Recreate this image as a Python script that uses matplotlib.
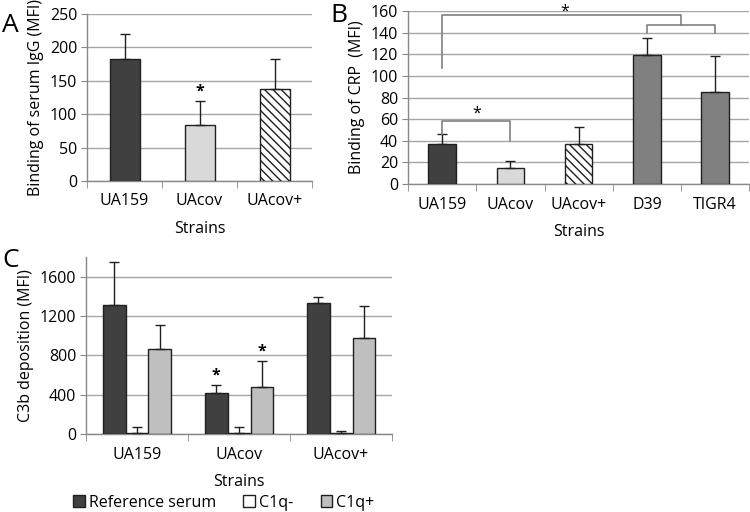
import matplotlib
matplotlib.use('Agg')
import matplotlib.pyplot as plt
import numpy as np

plt.rcParams['font.family'] = ['Open Sans', 'DejaVu Sans']
plt.rcParams['hatch.linewidth'] = 1.0

# ---------------------------------------------------------------------------
# Data
# ---------------------------------------------------------------------------
a_strains = ['UA159', 'UAcov', 'UAcov+']
a_igg = [183, 84, 138]
a_igg_err = [37, 35, 44]

b_strains = ['UA159', 'UAcov', 'UAcov+', 'D39', 'TIGR4']
b_crp = [37, 15, 37, 119, 85]
b_crp_err = [9, 6, 16, 16, 33]

c_strains = ['UA159', 'UAcov', 'UAcov+']
c_series = ['Reference serum', 'C1q-', 'C1q+']
c_ref = [1310, 420, 1335]
c_ref_err = [440, 80, 55]
c_c1qm = [10, 10, 15]
c_c1qm_err = [60, 60, 20]
c_c1qp = [860, 480, 975]
c_c1qp_err = [250, 265, 330]

# ---------------------------------------------------------------------------
# Style
# ---------------------------------------------------------------------------
DARK = '#404040'
LIGHT = '#d9d9d9'
MID = '#808080'
C1QP = '#bfbfbf'
GRID = '#a6a6a6'
AXIS = '#888888'
TICK_FS = 11.5
LAB_FS = 11.5
STAR_FS = 11.5


def style_axes(ax, ymax, ystep, ncat):
    ax.set_xlim(-0.5, ncat - 0.5)
    ax.set_ylim(0, ymax)
    ax.set_yticks(np.arange(0, ymax + 0.1, ystep))
    ax.yaxis.grid(True, color=GRID, linewidth=1.0)
    ax.set_axisbelow(True)
    for s in ('top', 'right'):
        ax.spines[s].set_visible(False)
    for s in ('left', 'bottom'):
        ax.spines[s].set_color(AXIS)
        ax.spines[s].set_linewidth(1.0)
    ax.tick_params(axis='y', length=4, color=AXIS, labelsize=TICK_FS, pad=3)
    ax.set_xticks(np.arange(ncat))
    ax.tick_params(axis='x', length=0, labelsize=TICK_FS, pad=9)
    ax.set_xticks(np.arange(ncat + 1) - 0.5, minor=True)
    ax.tick_params(axis='x', which='minor', length=5, color=AXIS)
    ax.set_xlabel('Strains', fontsize=LAB_FS, labelpad=8)


fig = plt.figure(figsize=(7.5, 5.12), dpi=100)
err_kw = dict(ecolor='#202020', elinewidth=1.0, capsize=3.5, capthick=1.0)

# ===================================================================
# Panel A
# ===================================================================
axA = fig.add_axes([0.116, 0.6465, 0.300, 0.3262])
xa = np.arange(len(a_strains))
colA = [DARK, LIGHT, 'white']
barsA = axA.bar(xa, a_igg, width=0.4, color=colA, edgecolor='#202020',
                linewidth=1.0, zorder=3)
barsA[2].set_hatch('\\\\\\\\')
axA.errorbar(xa, a_igg, yerr=[np.zeros(3), a_igg_err], fmt='none', zorder=4, **err_kw)
style_axes(axA, 250, 50, 3)
axA.set_xticklabels(a_strains)
axA.set_ylabel('Binding of serum IgG (MFI)', fontsize=LAB_FS, labelpad=4)
axA.text(xa[1], a_igg[1] + a_igg_err[1] + 3, '*', ha='center', va='bottom',
         fontsize=STAR_FS, fontweight='bold')

# ===================================================================
# Panel B
# ===================================================================
axB = fig.add_axes([0.544, 0.6406, 0.455, 0.3379])
xb = np.arange(len(b_strains))
colB = [DARK, LIGHT, 'white', MID, MID]
barsB = axB.bar(xb, b_crp, width=0.4, color=colB, edgecolor='#202020',
                linewidth=1.0, zorder=3)
barsB[2].set_hatch('\\\\\\\\')
axB.errorbar(xb, b_crp, yerr=[np.zeros(5), b_crp_err], fmt='none', zorder=4, **err_kw)
style_axes(axB, 160, 20, 5)
axB.set_xticklabels(b_strains)
axB.set_ylabel('Binding of CRP  (MFI)', fontsize=LAB_FS, labelpad=4)

BR = dict(color=MID, linewidth=1.2, clip_on=False, zorder=5)
# UA159 vs UAcov bracket
y_top = 58
axB.plot([xb[0], xb[0], xb[1], xb[1]], [b_crp[0] + b_crp_err[0], y_top, y_top, 40], **BR)
axB.text((xb[0] + xb[1]) / 2, y_top, '*', ha='center', va='bottom', fontsize=STAR_FS)
# D39 / TIGR4 bracket
y_pn = 147
axB.plot([xb[3], xb[3], xb[4], xb[4]], [140, y_pn, y_pn, 140], **BR)
# UA159 vs pneumococci bracket
mid_pn = (xb[3] + xb[4]) / 2
y_big = 156
axB.plot([xb[0], xb[0], mid_pn, mid_pn], [107, y_big, y_big, y_pn], **BR)
axB.text((xb[0] + mid_pn) / 2 + 0.05, y_big - 4, '*', ha='center', va='bottom', fontsize=STAR_FS)

# ===================================================================
# Panel C
# ===================================================================
axC = fig.add_axes([0.1147, 0.1523, 0.408, 0.346])
xc = np.arange(len(c_strains))
w = 0.225
series = [(c_ref, c_ref_err, DARK), (c_c1qm, c_c1qm_err, 'white'), (c_c1qp, c_c1qp_err, C1QP)]
handles = []
for i, (vals, errs, col) in enumerate(series):
    xs = xc + (i - 1) * w
    h = axC.bar(xs, vals, width=w, color=col, edgecolor='#202020', linewidth=1.0, zorder=3)
    axC.errorbar(xs, vals, yerr=[np.zeros(3), errs], fmt='none', zorder=4, **err_kw)
    handles.append(h)
style_axes(axC, 1800, 400, 3)
axC.set_yticks([0, 400, 800, 1200, 1600])
axC.set_xticklabels(c_strains)
axC.set_ylabel('C3b deposition (MFI)', fontsize=LAB_FS, labelpad=4)
for i in (0, 2):
    xs = xc[1] + (i - 1) * w
    vals, errs = series[i][0], series[i][1]
    axC.text(xs, vals[1] + errs[1] + 15, '*', ha='center', va='bottom',
             fontsize=STAR_FS, fontweight='bold')

fig.legend(handles, c_series, loc='center left', bbox_to_anchor=(0.097, 0.018), ncol=3,
           frameon=False, fontsize=11.5, handlelength=0.75, handleheight=0.75,
           handletextpad=0.25, columnspacing=1.7, borderaxespad=0, borderpad=0)

# Panel letters
fig.text(0.003, 0.975, 'A', fontsize=19, va='top', ha='left')
fig.text(0.441, 0.995, 'B', fontsize=19, va='top', ha='left')
fig.text(0.003, 0.515, 'C', fontsize=19, va='top', ha='left')

fig.savefig('out.png', dpi=100, facecolor='white')
